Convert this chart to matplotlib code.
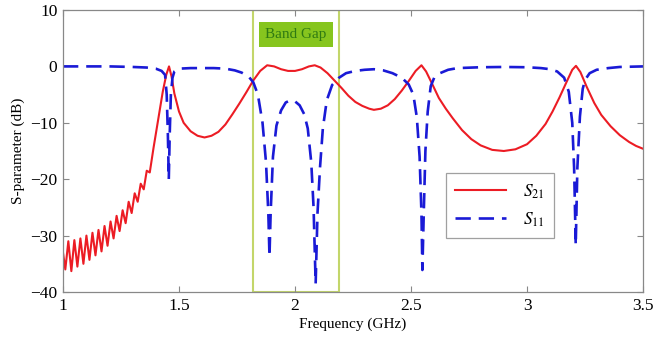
import matplotlib
matplotlib.use("Agg")
import matplotlib.pyplot as plt
from matplotlib.patches import Rectangle

plt.rcParams['font.family'] = ['Liberation Serif', 'DejaVu Serif']
plt.rcParams['mathtext.fontset'] = 'stix'

# S21 (solid red)
s21_f = [1.000, 1.010, 1.023, 1.036, 1.049, 1.062, 1.075, 1.088, 1.101, 1.114,
         1.127, 1.140, 1.153, 1.166, 1.179, 1.192, 1.205, 1.218, 1.231, 1.244,
         1.257, 1.270, 1.283, 1.296, 1.309, 1.322, 1.335, 1.348, 1.361, 1.374,
         1.39, 1.41, 1.43, 1.445, 1.457, 1.468, 1.48, 1.50, 1.52, 1.55,
         1.58, 1.61, 1.64, 1.67, 1.70, 1.73, 1.76, 1.79, 1.82, 1.85,
         1.88, 1.91, 1.94, 1.97, 2.00, 2.03, 2.06, 2.085, 2.11, 2.14,
         2.17, 2.20, 2.23, 2.26, 2.29, 2.32, 2.34, 2.37, 2.40, 2.43,
         2.46, 2.49, 2.52, 2.545, 2.565, 2.59, 2.62, 2.65, 2.68, 2.72,
         2.76, 2.80, 2.85, 2.90, 2.95, 3.00, 3.04, 3.08, 3.11, 3.14,
         3.17, 3.195, 3.211, 3.23, 3.257, 3.29, 3.32, 3.36, 3.40, 3.44,
         3.47, 3.50]
s21_db = [-33.0, -36.0, -31.0, -36.3, -30.8, -35.5, -30.5, -35.0, -30.0, -34.3,
          -29.5, -33.5, -29.0, -32.8, -28.3, -31.8, -27.5, -30.5, -26.5, -29.2,
          -25.5, -27.8, -24.0, -26.0, -22.5, -24.0, -20.8, -21.8, -18.5, -18.8,
          -14.5, -9.5, -4.5, -1.5, 0.0, -1.8, -4.8, -8.0, -10.0, -11.5,
          -12.3, -12.6, -12.3, -11.6, -10.3, -8.5, -6.6, -4.6, -2.5, -0.8,
          0.2, 0.0, -0.5, -0.8, -0.8, -0.5, 0.0, 0.2, -0.2, -1.2,
          -2.5, -3.8, -5.2, -6.3, -7.0, -7.5, -7.7, -7.5, -6.9, -5.8,
          -4.3, -2.6, -0.8, 0.2, -0.9, -3.0, -5.6, -7.5, -9.2, -11.3,
          -12.9, -14.0, -14.8, -15.0, -14.7, -13.8, -12.3, -10.2, -8.0, -5.5,
          -2.8, -0.6, 0.1, -1.0, -3.6, -6.5, -8.6, -10.6, -12.2, -13.4,
          -14.1, -14.6]

# S11 (dashed blue)
s11_f = [1.00, 1.10, 1.20, 1.30, 1.36, 1.40, 1.425, 1.44, 1.447, 1.452,
         1.456, 1.460, 1.465, 1.472, 1.48, 1.50, 1.55, 1.60, 1.65, 1.70,
         1.74, 1.77, 1.80, 1.82, 1.84, 1.86, 1.875, 1.885, 1.89, 1.895,
         1.905, 1.92, 1.94, 1.96, 1.98, 2.00, 2.02, 2.04, 2.055, 2.07,
         2.08, 2.089, 2.097, 2.108, 2.12, 2.137, 2.16, 2.19, 2.22, 2.26,
         2.30, 2.34, 2.38, 2.42, 2.46, 2.49, 2.51, 2.525, 2.537, 2.545,
         2.549, 2.555, 2.562, 2.572, 2.585, 2.60, 2.625, 2.66, 2.70, 2.80,
         2.90, 3.00, 3.06, 3.10, 3.13, 3.16, 3.18, 3.195, 3.203, 3.210,
         3.217, 3.228, 3.24, 3.25, 3.27, 3.30, 3.35, 3.40, 3.50]
s11_db = [0.0, 0.0, 0.0, -0.1, -0.2, -0.4, -0.8, -1.5, -5.0, -12.0,
          -20.0, -12.0, -5.0, -2.0, -0.9, -0.4, -0.3, -0.3, -0.3, -0.4,
          -0.7, -1.1, -1.8, -2.8, -5.0, -10.0, -17.0, -26.0, -33.7, -26.0,
          -16.0, -10.5, -7.8, -6.4, -6.0, -6.2, -6.9, -8.5, -11.0, -17.0,
          -25.0, -38.5, -26.0, -17.8, -11.0, -6.0, -3.3, -2.0, -1.2, -0.8,
          -0.6, -0.5, -0.7, -1.2, -2.0, -3.2, -5.0, -9.0, -16.0, -26.0,
          -36.1, -26.0, -15.0, -8.0, -3.5, -2.0, -1.2, -0.6, -0.3, -0.15,
          -0.1, -0.15, -0.3, -0.5, -0.9, -2.0, -4.5, -10.0, -18.0, -31.7,
          -18.0, -8.9, -4.0, -2.4, -1.2, -0.6, -0.3, -0.1, 0.0]

band_gap = [1.819, 2.19]
x_ticks = [1, 1.5, 2, 2.5, 3, 3.5]
x_tick_labels = ["1", "1.5", "2", "2.5", "3", "3.5"]
y_ticks = [-40, -30, -20, -10, 0, 10]

fig = plt.figure(figsize=(6.61, 3.38), dpi=100)
ax = fig.add_axes([0.0953, 0.1361, 0.8775, 0.8343])

ax.add_patch(Rectangle((band_gap[0], -40), band_gap[1] - band_gap[0], 50,
                       fill=False, edgecolor='#c3d66a', lw=1.5, zorder=1))
ax.text((band_gap[0] + band_gap[1]) / 2, 5.6, "Band Gap", ha='center', va='center',
        fontsize=11, color='#2f7a12',
        bbox=dict(boxstyle='square,pad=0.4', facecolor='#86c51e', edgecolor='none'),
        zorder=3)

ax.plot(s21_f, s21_db, color='#ec1c24', lw=1.5, label=r'$S_{\mathrm{21}}$', zorder=2,
        solid_joinstyle='round')
ax.plot(s11_f, s11_db, color='#1a1ad6', lw=1.9, dashes=(5.8, 3.0),
        label=r'$S_{\mathrm{11}}$', zorder=2)

ax.set_xlim(1, 3.5)
ax.set_ylim(-40, 10)
ax.set_xticks(x_ticks)
ax.set_xticklabels(x_tick_labels)
ax.set_yticks(y_ticks)
ax.tick_params(direction='in', top=True, right=True, labelsize=12.5,
               length=4, color='#888888', pad=4)
for s in ax.spines.values():
    s.set_color('#888888')
    s.set_linewidth(0.9)

ax.set_xlabel("Frequency (GHz)", fontsize=11, labelpad=3)
ax.set_ylabel("S-parameter (dB)", fontsize=11, labelpad=4)

leg = ax.legend(loc='upper left', bbox_to_anchor=(0.66, 0.422), fontsize=12.5,
                frameon=True, fancybox=False, handlelength=2.9, borderpad=0.55,
                labelspacing=0.55, handletextpad=1.0, borderaxespad=0)
leg.get_frame().set_edgecolor('#888888')
leg.get_frame().set_linewidth(0.9)

fig.savefig("out.png", dpi=100)
